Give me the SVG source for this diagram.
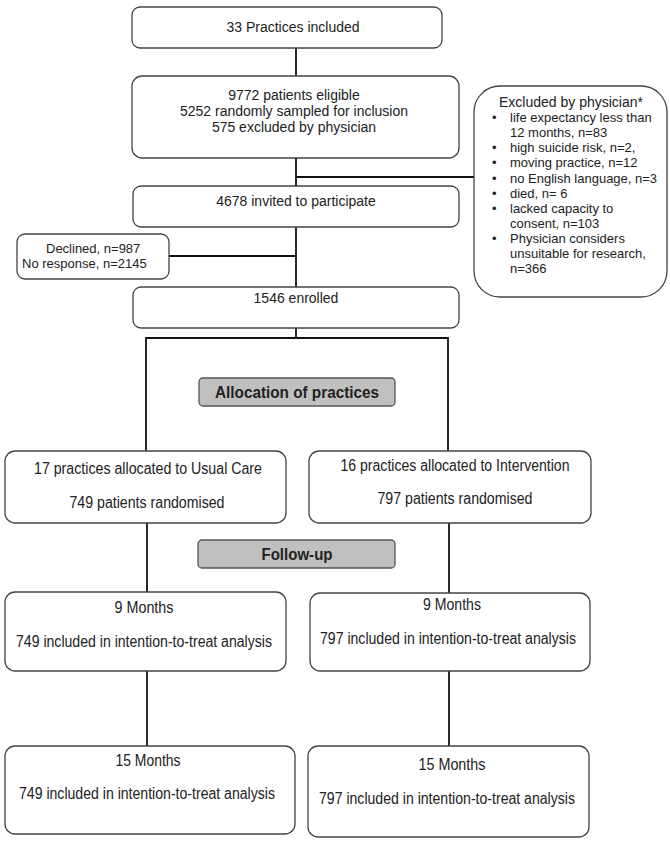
<svg xmlns="http://www.w3.org/2000/svg" width="670" height="845" viewBox="0 0 670 845">
<style>
.box{fill:#fff;stroke:#444;stroke-width:1.3}
.gbox{fill:#c0c0c0;stroke:#555;stroke-width:1.3}
.ln{fill:none;stroke:#111;stroke-width:1.8}
text{font-family:"Liberation Sans",Arial,sans-serif;fill:#222}
.t14{font-size:14px}
.t13{font-size:13px}
.t16{font-size:16px}
.c{text-anchor:middle}
.b{font-weight:bold;font-size:16px}
</style>
<rect width="670" height="845" fill="#fff"/>
<g id="connectors">
<line class="ln" x1="296" y1="48" x2="296" y2="76"/>
<line class="ln" x1="296" y1="158" x2="296" y2="186"/>
<line class="ln" x1="296" y1="177" x2="474" y2="177"/>
<line class="ln" x1="296" y1="227" x2="296" y2="287"/>
<line class="ln" x1="169" y1="256" x2="296" y2="256"/>
<line class="ln" x1="296" y1="328" x2="296" y2="338"/>
<polyline class="ln" points="146,451 146,338 448,338 448,451"/>
<line class="ln" x1="147" y1="523" x2="147" y2="592"/>
<line class="ln" x1="449" y1="523" x2="449" y2="593"/>
<line class="ln" x1="147" y1="671" x2="147" y2="746"/>
<line class="ln" x1="449" y1="671" x2="449" y2="746"/>
</g>
<g id="n-practices">
<rect class="box" x="132" y="7" width="310" height="41" rx="8"/>
<text class="t14 c" x="293" y="32">33 Practices included</text>
</g>
<g id="n-eligible">
<rect class="box" x="132" y="76" width="327" height="82" rx="10"/>
<text class="t14 c" x="294" y="100">9772 patients eligible</text>
<text class="t14 c" x="294" y="116">5252 randomly sampled for inclusion</text>
<text class="t14 c" x="294" y="132">575 excluded by physician</text>
</g>
<g id="n-excluded">
<rect class="box" x="474" y="86" width="193" height="211" rx="26"/>
<text class="t14 c" x="571" y="107">Excluded by physician*</text>
<g class="t13">
<text x="492" y="122">•</text><text x="510" y="122">life expectancy less than</text>
<text x="510" y="137">12 months, n=83</text>
<text x="492" y="152">•</text><text x="510" y="152">high suicide risk, n=2,</text>
<text x="492" y="167">•</text><text x="510" y="167">moving practice, n=12</text>
<text x="492" y="183">•</text><text x="510" y="183">no English language, n=3</text>
<text x="492" y="198">•</text><text x="510" y="198">died, n= 6</text>
<text x="492" y="213">•</text><text x="510" y="213">lacked capacity to</text>
<text x="510" y="228">consent, n=103</text>
<text x="492" y="243">•</text><text x="510" y="243">Physician considers</text>
<text x="510" y="258">unsuitable for research,</text>
<text x="510" y="273">n=366</text>
</g>
</g>
<g id="n-invited">
<rect class="box" x="133" y="186" width="326" height="41" rx="8"/>
<text class="t14 c" x="296" y="206">4678 invited to participate</text>
</g>
<g id="n-declined">
<rect class="box" x="17" y="234" width="152" height="45" rx="8"/>
<text class="t13" x="46" y="253">Declined, n=987</text>
<text class="t13" x="22" y="268">No response, n=2145</text>
</g>
<g id="n-enrolled">
<rect class="box" x="133" y="287" width="326" height="41" rx="8"/>
<text class="t14 c" x="296" y="303">1546 enrolled</text>
</g>
<g id="n-allocation">
<rect class="gbox" x="199" y="378" width="196" height="28" rx="4"/>
<text class="b c" x="297" y="398" textLength="164" lengthAdjust="spacingAndGlyphs">Allocation of practices</text>
</g>
<g id="n-usual">
<rect class="box" x="5" y="451" width="281" height="72" rx="10"/>
<text class="t16 c" x="148" y="474" textLength="228" lengthAdjust="spacingAndGlyphs">17 practices allocated to Usual Care</text>
<text class="t16 c" x="147" y="508" textLength="155" lengthAdjust="spacingAndGlyphs">749 patients randomised</text>
</g>
<g id="n-intervention">
<rect class="box" x="309" y="451" width="282" height="72" rx="10"/>
<text class="t16 c" x="455" y="471" textLength="229" lengthAdjust="spacingAndGlyphs">16 practices allocated to Intervention</text>
<text class="t16 c" x="455" y="504" textLength="155" lengthAdjust="spacingAndGlyphs">797 patients randomised</text>
</g>
<g id="n-followup">
<rect class="gbox" x="198" y="540" width="197" height="28" rx="4"/>
<text class="b c" x="297" y="560" textLength="71" lengthAdjust="spacingAndGlyphs">Follow-up</text>
</g>
<g id="n-usual9">
<rect class="box" x="5" y="592" width="281" height="79" rx="10"/>
<text class="t16 c" x="144" y="613" textLength="59" lengthAdjust="spacingAndGlyphs">9 Months</text>
<text class="t16 c" x="144" y="647" textLength="256" lengthAdjust="spacingAndGlyphs">749 included in intention-to-treat analysis</text>
</g>
<g id="n-int9">
<rect class="box" x="310" y="593" width="280" height="78" rx="10"/>
<text class="t16 c" x="452" y="610" textLength="58" lengthAdjust="spacingAndGlyphs">9 Months</text>
<text class="t16 c" x="448" y="644" textLength="256" lengthAdjust="spacingAndGlyphs">797 included in intention-to-treat analysis</text>
</g>
<g id="n-usual15">
<rect class="box" x="5" y="746" width="290" height="88" rx="10"/>
<text class="t16 c" x="148" y="766" textLength="65" lengthAdjust="spacingAndGlyphs">15 Months</text>
<text class="t16 c" x="147" y="799" textLength="256" lengthAdjust="spacingAndGlyphs">749 included in intention-to-treat analysis</text>
</g>
<g id="n-int15">
<rect class="box" x="308" y="746" width="281" height="91" rx="10"/>
<text class="t16 c" x="452" y="770" textLength="67" lengthAdjust="spacingAndGlyphs">15 Months</text>
<text class="t16 c" x="447" y="804" textLength="256" lengthAdjust="spacingAndGlyphs">797 included in intention-to-treat analysis</text>
</g>
</svg>
